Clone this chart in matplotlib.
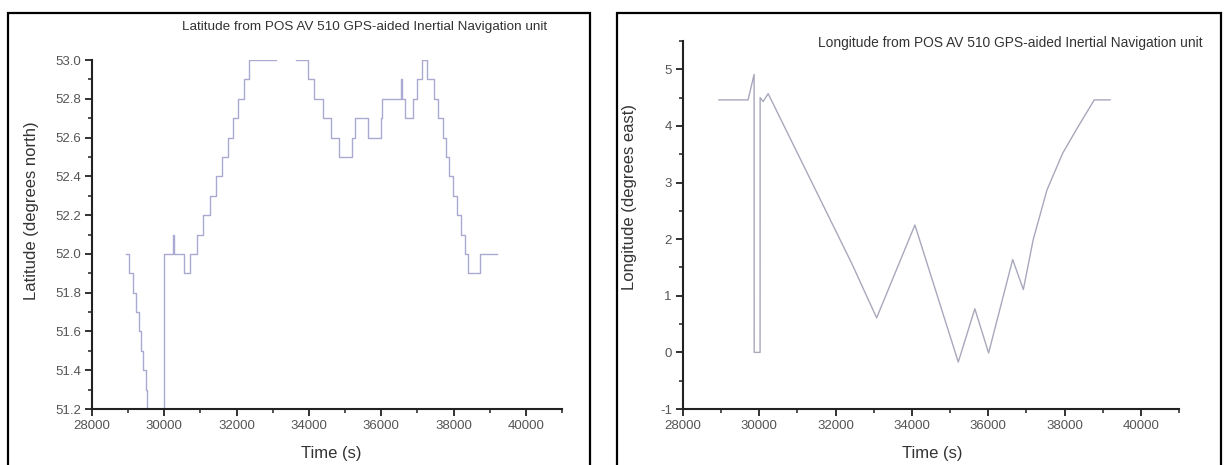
import numpy as np
import matplotlib
matplotlib.use('Agg')
from matplotlib import pyplot as plt
from matplotlib.patches import Rectangle
from matplotlib.ticker import MultipleLocator, FormatStrFormatter

plt.rcParams['font.family'] = ['Liberation Sans', 'DejaVu Sans']
plt.rcParams['axes.unicode_minus'] = False

# latitude step trace (time where each level starts, level in degrees north)
lat_time = [28950, 29015, 29130, 29215, 29290, 29350, 29415, 29480, 29530, 30000,
            30240, 30260, 30550, 30720, 30900, 31070, 31260, 31440, 31600, 31760,
            31900, 32040, 32200, 32330, 33100, 33630, 33970, 34150, 34400, 34620,
            34820, 35200, 35280, 35640, 35980, 36030, 36550, 36570, 36670, 36880,
            36980, 37140, 37270, 37460, 37580, 37700, 37780, 37880, 37990, 38100,
            38200, 38310, 38410, 38730, 39200]
lat_value = [52.0, 51.9, 51.8, 51.7, 51.6, 51.5, 51.4, 51.3, 51.0, 52.0,
             52.1, 52.0, 51.9, 52.0, 52.1, 52.2, 52.3, 52.4, 52.5, 52.6,
             52.7, 52.8, 52.9, 53.0, np.nan, 53.0, 52.9, 52.8, 52.7, 52.6,
             52.5, 52.6, 52.7, 52.6, 52.7, 52.8, 52.9, 52.8, 52.7, 52.8,
             52.9, 53.0, 52.9, 52.8, 52.7, 52.6, 52.5, 52.4, 52.3, 52.2,
             52.1, 52.0, 51.9, 52.0, 52.0]

# longitude trace (degrees east)
lon_time = [28940, 29705, 29864, 29866, 30020, 30022, 30100, 30232, 32424, 33075,
            34078, 35215, 35649, 36010, 36641, 36920, 37178, 37540, 37953, 38367,
            38780, 39194]
lon_value = [4.46, 4.46, 4.91, 0.0, 0.0, 4.5, 4.43, 4.57, 1.57, 0.61,
             2.25, -0.17, 0.77, -0.01, 1.64, 1.11, 1.99, 2.87, 3.52, 4.0,
             4.46, 4.46]

lat_title = 'Latitude from POS AV 510 GPS-aided Inertial Navigation unit'
lon_title = 'Longitude from POS AV 510 GPS-aided Inertial Navigation unit'

W, H = 1227, 465
fig = plt.figure(figsize=(W / 100, H / 100), dpi=100)
fig.patch.set_facecolor('white')


def px_axes(x0, x1, y0, y1):
    return fig.add_axes([x0 / W, 1 - y1 / H, (x1 - x0) / W, (y1 - y0) / H])


def style(ax, minor_y):
    for s in ['top', 'right']:
        ax.spines[s].set_visible(False)
    for s in ['left', 'bottom']:
        ax.spines[s].set_color('#222222')
        ax.spines[s].set_linewidth(1.5)
    ax.set_xlim(28000, 41000)
    ax.xaxis.set_major_locator(MultipleLocator(2000))
    ax.xaxis.set_minor_locator(MultipleLocator(1000))
    ax.yaxis.set_minor_locator(MultipleLocator(minor_y))
    ax.tick_params(which='major', direction='out', length=5, width=1.3,
                   color='#222222', labelsize=9.5, labelcolor='#555555', pad=3)
    ax.tick_params(which='minor', direction='out', length=3, width=1.1, color='#222222')


# borders round each panel
for bx0, bx1 in [(8, 590), (617, 1221)]:
    fig.patches.append(Rectangle((bx0 / W, -0.05), (bx1 - bx0) / W, 1 - 13 / H + 0.05,
                                 transform=fig.transFigure, fill=False,
                                 edgecolor='black', linewidth=1.6))

ax1 = px_axes(92, 562, 60, 409)
style(ax1, 0.1)
ax1.step(lat_time, lat_value, where='post', color='#a9a9d2', linewidth=1.0)
ax1.set_ylim(51.2, 53.0)
ax1.yaxis.set_major_locator(MultipleLocator(0.2))
ax1.yaxis.set_major_formatter(FormatStrFormatter('%.1f'))
ax1.set_ylabel('Latitude (degrees north)', fontsize=12, color='#333333', va='center')
ax1.yaxis.set_label_coords(-0.128, 0.567)
ax1.set_xlabel('Time (s)', fontsize=12, color='#333333')
ax1.xaxis.set_label_coords(0.51, -0.105)
fig.text(365 / W, 1 - 27 / H, lat_title, ha='center', va='center',
         fontsize=9.7, color='#333333')

ax2 = px_axes(683, 1179, 41, 409)
style(ax2, 0.5)
ax2.plot(lon_time, lon_value, color='#a8a8bc', linewidth=1.0)
ax2.set_ylim(-1, 5.5)
ax2.yaxis.set_major_locator(MultipleLocator(1))
ax2.set_ylabel('Longitude (degrees east)', fontsize=12, color='#333333', va='center')
ax2.yaxis.set_label_coords(-0.107, 0.576)
ax2.set_xlabel('Time (s)', fontsize=12, color='#333333')
ax2.xaxis.set_label_coords(0.502, -0.1)
fig.text(1010 / W, 1 - 43 / H, lon_title, ha='center', va='center',
         fontsize=9.9, color='#333333')

fig.savefig('out.png', dpi=100, facecolor='white')
